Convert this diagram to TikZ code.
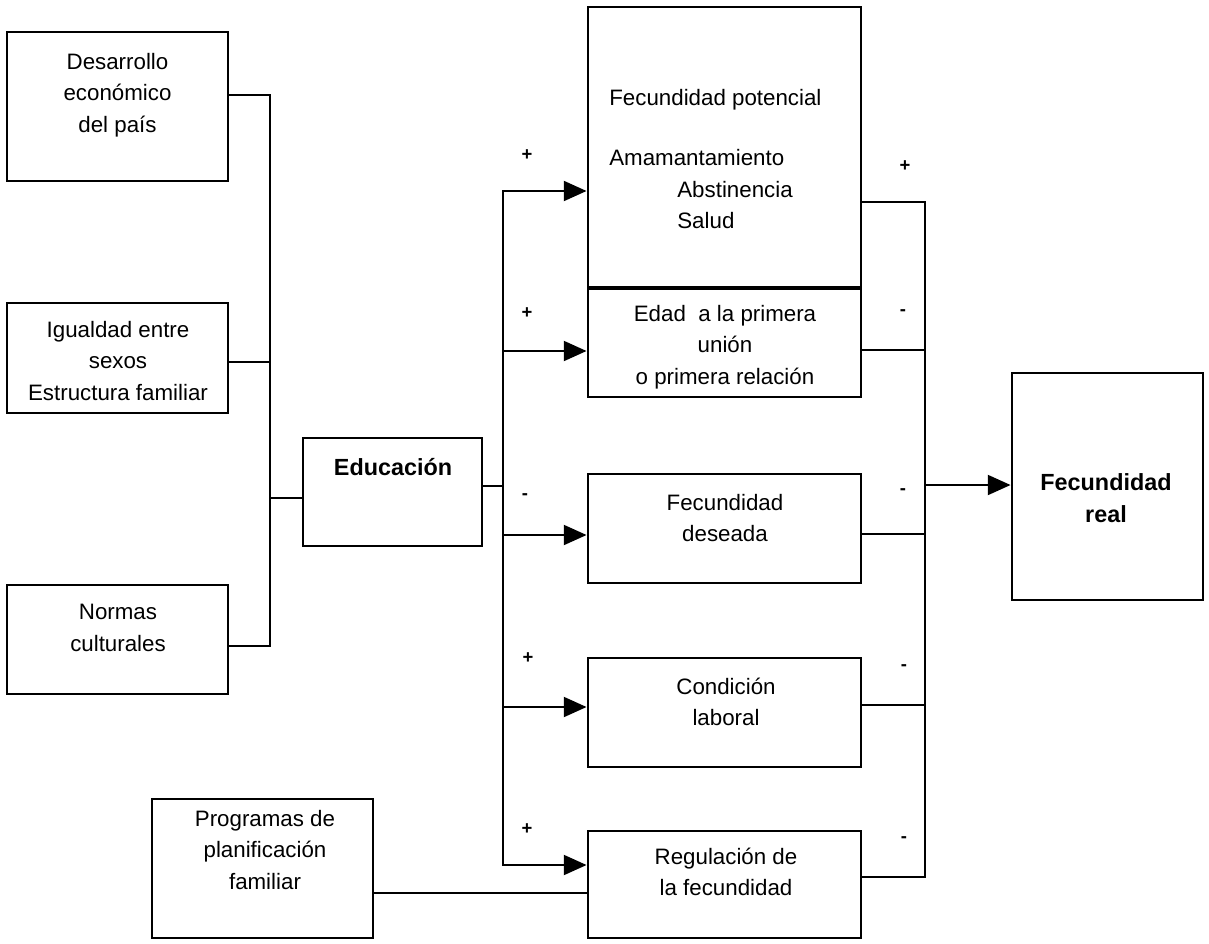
\documentclass[tikz,border=0pt]{standalone}
\usepackage{fontspec}
\setmainfont{Liberation Sans}
\usetikzlibrary{arrows.meta,fit}

\begin{document}
\begin{tikzpicture}[x=0.02cm, y=-0.02cm,
    caja/.style={draw, line width=1.6pt, inner sep=0pt},
    txt/.style={align=center, inner sep=0pt, font=\fontsize{12.7}{17.9}\selectfont},
    negrita/.style={align=center, inner sep=0pt, font=\fontsize{13.3}{17.9}\selectfont\bfseries},
    signo/.style={inner sep=0pt, font=\fontsize{10.5}{12}\selectfont\bfseries},
    linea/.style={line width=1.5pt, line cap=rect},
    flecha/.style={linea, -{Triangle[length=13pt, width=11.3pt]}}]
    \useasboundingbox (0,0) rectangle (1209,943);

    % Factores de contexto
    \node[caja, fit={(7,32) (228,181)}] (des) {};
    \node[txt] (des-t) at (117.5,95) {Desarrollo\\económico\\del país};
    \node[caja, fit={(7,303) (228,413)}] (igu) {};
    \node[txt] (igu-t) at (118,361) {Igualdad entre\\sexos\\Estructura familiar};
    \node[caja, fit={(7,585) (228,694)}] (nor) {};
    \node[txt] (nor-t) at (118,628) {Normas\\culturales};
    \node[caja, fit={(152,799) (373,938)}] (pro) {};
    \node[txt] (pro-t) at (265,850) {Programas de\\planificación\\familiar};

    % Educacion
    \node[caja, fit={(303,438) (482,546)}] (edu) {};
    \node[negrita] (edu-t) at (393,467) {Educación};

    % Determinantes proximos
    \node[caja, fit={(588,7) (861,287)}] (fp) {};
    \node[txt, anchor=base west] (fp-t1) at (609,105) {Fecundidad potencial};
    \node[txt, anchor=base west] (fp-t2) at (609,165) {Amamantamiento};
    \node[txt, anchor=base west] (fp-t3) at (677,197) {Abstinencia};
    \node[txt, anchor=base west] (fp-t4) at (677,228) {Salud};
    \node[caja, fit={(588,289) (861,397)}] (eda) {};
    \node[txt] (eda-t) at (725,347) {Edad\ \ a la primera\\unión\\o primera relación};
    \node[caja, fit={(588,474) (861,583)}] (fde) {};
    \node[txt] (fde-t) at (725,518) {Fecundidad\\deseada};
    \node[caja, fit={(588,658) (861,767)}] (con) {};
    \node[txt] (con-t) at (726,702) {Condición\\laboral};
    \node[caja, fit={(588,831) (861,938)}] (reg) {};
    \node[txt] (reg-t) at (726,872) {Regulación de\\la fecundidad};

    % Resultado
    \node[caja, fit={(1012,373) (1203,600)}] (fre) {};
    \node[negrita] (fre-t) at (1106,498) {Fecundidad\\real};

    % Conectores de la izquierda
    \coordinate (izqA) at (270,95);
    \coordinate (izqB) at (270,362);
    \coordinate (izqC) at (270,646);
    \coordinate (izqE) at (270,498);
    \draw[linea] (des.east |- izqA) -- (izqA) -- (izqC) -- (nor.east |- izqC);
    \draw[linea] (igu.east |- izqB) -- (izqB);
    \draw[linea] (izqE) -- (edu.west |- izqE);

    % Educacion hacia los determinantes
    \coordinate (medE) at (503,486);
    \coordinate (medA) at (503,191);
    \coordinate (medB) at (503,351);
    \coordinate (medC) at (503,535);
    \coordinate (medD) at (503,707);
    \coordinate (medF) at (503,865);
    \draw[linea] (edu.east |- medE) -- (medE);
    \draw[linea] (medA) -- (medF);
    \foreach \c/\n in {medA/fp, medB/eda, medC/fde, medD/con, medF/reg}
        \draw[flecha] (\c) -- (\n.west |- \c);
    \coordinate (plan) at (480,893);
    \draw[linea] (pro.east |- plan) -- (reg.west |- plan);

    % Determinantes hacia la fecundidad real
    \coordinate (derA) at (925,202);
    \coordinate (derB) at (925,350);
    \coordinate (derC) at (925,534);
    \coordinate (derD) at (925,705);
    \coordinate (derE) at (925,877);
    \coordinate (derR) at (925,485);
    \draw[linea] (fp.east |- derA) -- (derA) -- (derE) -- (reg.east |- derE);
    \foreach \c/\n in {derB/eda, derC/fde, derD/con}
        \draw[linea] (\n.east |- \c) -- (\c);
    \draw[flecha] (derR) -- (fre.west |- derR);

    % Signos
    \node[signo] (sgA) at (527,155) {+};
    \node[signo] (sgB) at (527,313) {+};
    \node[signo] (sgC) at (525,497) {-};
    \node[signo] (sgD) at (528,658) {+};
    \node[signo] (sgE) at (527,829) {+};
    \node[signo] (sgF) at (905,166) {+};
    \node[signo] (sgG) at (903,313) {-};
    \node[signo] (sgH) at (903,492) {-};
    \node[signo] (sgI) at (904,668) {-};
    \node[signo] (sgJ) at (904,840) {-};
\end{tikzpicture}
\end{document}
